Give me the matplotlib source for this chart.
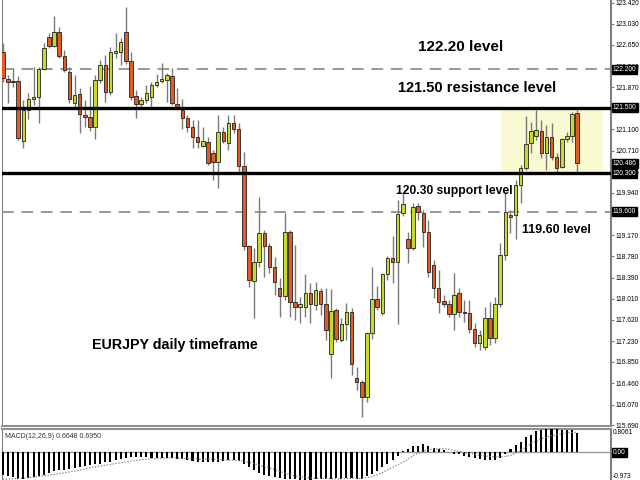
import matplotlib
matplotlib.use("Agg")
import matplotlib.pyplot as plt
import matplotlib.transforms as mtransforms
from matplotlib.patches import Rectangle
import numpy as np

# daily candles (oldest first)
opens = [122.52, 122.02, 121.99, 121.99, 120.89, 121.46, 121.66, 121.69, 122.21, 122.79,
         122.63, 122.88, 122.44, 122.15, 121.58, 121.75, 121.37, 121.33, 121.15, 122.00,
         122.28, 121.79, 122.50, 122.52, 122.88, 122.35, 121.71, 121.57, 121.64, 121.69,
         121.91, 121.99, 122.00, 122.08, 121.57, 121.46, 121.31, 121.15, 120.96, 120.80,
         120.87, 120.67, 120.51, 121.05, 120.85, 121.22, 121.11, 120.43, 118.97, 118.33,
         118.68, 119.21, 118.97, 118.59, 118.20, 118.06, 119.23, 117.95, 117.86, 117.86,
         118.11, 117.89, 118.15, 117.91, 117.00, 117.80, 117.25, 117.54, 117.76, 116.56,
         116.48, 116.21, 117.38, 118.00, 117.75, 118.46, 118.75, 118.68, 119.57, 119.10,
         118.93, 119.70, 119.57, 119.23, 118.62, 118.20, 117.96, 117.91, 117.73, 118.11,
         117.76, 117.75, 117.45, 117.20, 117.12, 117.65, 117.29, 117.91, 118.81, 119.54,
         119.54, 120.09, 120.40, 120.85, 120.99, 121.07, 120.67, 120.96, 120.60, 120.41,
         120.93, 120.98, 121.40]
highs = [122.68, 122.10, 122.22, 122.08, 121.64, 121.77, 122.24, 122.24, 122.68, 122.86,
         123.17, 122.97, 122.55, 122.24, 122.10, 121.86, 121.64, 121.89, 122.10, 122.37,
         122.46, 122.61, 122.86, 122.77, 123.34, 122.52, 121.82, 121.69, 121.91, 121.97,
         122.12, 122.32, 122.13, 122.22, 121.86, 121.66, 121.37, 121.27, 121.27, 121.15,
         120.96, 120.73, 121.37, 121.15, 121.37, 121.37, 121.22, 120.69, 118.99, 118.93,
         119.87, 119.26, 119.03, 118.77, 118.39, 119.57, 119.26, 118.99, 118.04, 118.46,
         118.29, 118.31, 118.20, 118.20, 118.18, 117.84, 117.65, 117.93, 117.84, 116.76,
         116.52, 117.40, 118.59, 118.24, 118.48, 118.79, 119.15, 119.81, 119.94, 119.23,
         119.76, 119.76, 119.63, 119.45, 118.71, 118.53, 118.07, 117.98, 118.48, 118.20,
         117.98, 117.98, 117.56, 117.43, 117.85, 117.95, 118.04, 119.03, 119.96, 119.63,
         120.18, 120.45, 121.35, 121.24, 121.46, 121.27, 121.18, 121.22, 120.67, 120.94,
         121.05, 121.42, 121.46]
lows = [121.97, 121.58, 121.88, 120.91, 120.76, 121.29, 121.55, 121.22, 122.19, 122.59,
        122.61, 122.41, 122.15, 121.58, 121.51, 121.04, 121.15, 121.07, 120.93, 121.95,
        121.60, 121.73, 122.41, 122.28, 122.30, 121.64, 121.31, 121.51, 121.58, 121.51,
        121.88, 121.95, 121.60, 121.55, 121.46, 121.11, 121.05, 120.76, 120.76, 120.78,
        120.45, 120.18, 120.03, 120.85, 120.73, 121.04, 120.32, 118.90, 118.22, 117.65,
        118.59, 118.40, 118.48, 118.07, 117.67, 117.98, 117.67, 117.62, 117.56, 117.67,
        117.56, 117.80, 117.71, 117.25, 116.56, 117.22, 117.22, 117.25, 116.61, 116.34,
        115.84, 116.12, 117.27, 117.80, 117.71, 118.35, 118.29, 117.54, 119.52, 118.66,
        118.90, 119.45, 118.95, 118.40, 118.02, 117.75, 117.86, 117.67, 117.43, 117.67,
        117.58, 117.38, 117.13, 117.07, 117.07, 117.16, 117.20, 117.86, 118.71, 119.21,
        119.10, 119.76, 120.36, 120.67, 120.91, 120.58, 120.36, 120.54, 120.32, 120.40,
        120.87, 120.87, 120.32]
closes = [122.04, 121.97, 121.97, 120.94, 121.46, 121.66, 121.69, 122.21, 122.59, 122.63,
          122.88, 122.44, 122.19, 121.66, 121.73, 121.38, 121.33, 121.15, 122.00, 122.28,
          121.79, 122.52, 122.53, 122.70, 122.35, 121.69, 121.57, 121.64, 121.77, 121.91,
          121.97, 122.02, 122.10, 121.58, 121.49, 121.31, 121.15, 120.96, 120.87, 120.89,
          120.49, 120.51, 121.05, 120.89, 121.22, 121.11, 120.43, 118.97, 118.35, 118.68,
          119.21, 118.97, 118.59, 118.31, 118.06, 119.23, 117.95, 117.86, 117.91, 118.11,
          117.91, 118.17, 117.91, 117.43, 117.78, 117.27, 117.54, 117.76, 116.81, 116.48,
          116.21, 117.38, 118.00, 117.86, 118.46, 118.75, 118.68, 119.55, 119.74, 118.93,
          119.68, 119.59, 119.23, 118.50, 118.20, 117.95, 117.91, 117.73, 118.07, 117.76,
          117.75, 117.45, 117.20, 117.34, 117.65, 117.29, 117.91, 118.81, 119.59, 119.50,
          120.09, 120.40, 120.83, 121.07, 121.09, 120.67, 120.96, 120.60, 120.40, 120.93,
          120.98, 121.38, 120.486]

# MACD(12,26,9) main bars and dotted signal line
macd = [-0.79, -0.85, -0.88, -0.93, -0.93, -0.91, -0.88, -0.85, -0.79, -0.73,
        -0.67, -0.64, -0.61, -0.58, -0.55, -0.52, -0.48, -0.45, -0.42, -0.40,
        -0.36, -0.33, -0.28, -0.24, -0.21, -0.18, -0.18, -0.18, -0.18, -0.19,
        -0.21, -0.21, -0.22, -0.22, -0.23, -0.24, -0.27, -0.30, -0.33, -0.34,
        -0.33, -0.33, -0.33, -0.30, -0.28, -0.28, -0.30, -0.40, -0.52, -0.64,
        -0.73, -0.79, -0.85, -0.88, -0.92, -0.95, -0.93, -0.95, -0.97, -0.973,
        -0.96, -0.95, -0.94, -0.93, -0.94, -0.92, -0.93, -0.92, -0.90, -0.93,
        -0.93, -0.85, -0.75, -0.65, -0.52, -0.40, -0.28, -0.15, 0.05, 0.12,
        0.21, 0.23, 0.28, 0.23, 0.16, 0.11, 0.06, 0.01, -0.06, -0.08,
        -0.12, -0.18, -0.22, -0.25, -0.28, -0.28, -0.27, -0.21, -0.06, 0.12,
        0.24, 0.36, 0.52, 0.61, 0.73, 0.76, 0.8061, 0.79, 0.79, 0.78,
        0.77, 0.78, 0.6648]
signal = [-0.95, -0.94, -0.93, -0.92, -0.91, -0.89, -0.87, -0.85, -0.82, -0.80,
          -0.78, -0.75, -0.72, -0.69, -0.66, -0.63, -0.59, -0.55, -0.52, -0.49,
          -0.46, -0.43, -0.40, -0.37, -0.34, -0.31, -0.29, -0.27, -0.25, -0.23,
          -0.22, -0.21, -0.21, -0.20, -0.20, -0.21, -0.22, -0.23, -0.24, -0.25,
          -0.24, -0.25, -0.26, -0.27, -0.28, -0.28, -0.29, -0.31, -0.35, -0.40,
          -0.45, -0.50, -0.55, -0.61, -0.67, -0.73, -0.79, -0.83, -0.86, -0.88,
          -0.90, -0.91, -0.92, -0.92, -0.93, -0.93, -0.93, -0.92, -0.92, -0.92,
          -0.91, -0.89, -0.86, -0.79, -0.71, -0.62, -0.53, -0.44, -0.35, -0.26,
          -0.12, -0.04, 0.03, 0.08, 0.11, 0.12, 0.12, 0.10, 0.06, 0.02,
          -0.02, -0.05, -0.08, -0.11, -0.13, -0.15, -0.16, -0.16, -0.15, -0.12,
          -0.04, 0.06, 0.17, 0.29, 0.38, 0.46, 0.52, 0.57, 0.61, 0.64,
          0.67, 0.68, 0.695]

price_ticks = [123.420, 123.030, 122.650, 122.260, 121.870, 121.480, 121.100, 120.710,
               120.320, 119.940, 119.550, 119.170, 118.780, 118.390, 118.010, 117.620,
               117.230, 116.850, 116.460, 116.070, 115.690]
boxed_levels = [122.200, 121.500, 120.486, 120.300, 119.600]
resistance, support = 121.50, 120.30
upper_level, lower_level = 122.20, 119.60

green = "#c6da2c"
red = "#e65a22"
label_font = "Liberation Sans"

fig = plt.figure(figsize=(6.4, 4.8), dpi=100)
ax = fig.add_axes([2 / 640, 54 / 480, 609 / 640, 426 / 480])
axm = fig.add_axes([2 / 640, 0, 609 / 640, 51 / 480])

n = len(opens)
idx = np.arange(n)
o = np.array(opens)
c = np.array(closes)

# --- price panel ---
ax.add_patch(Rectangle((97.2, support), 19.9, resistance - support,
                       facecolor="#fafad2", edgecolor="none", zorder=0))
ax.axhline(upper_level, color="#999999", lw=1.4, ls=(0, (6, 4)), zorder=1)
ax.axhline(lower_level, color="#999999", lw=1.4, ls=(0, (6, 4)), zorder=1)

ax.vlines(idx, lows, highs, color="#7a7a7a", lw=1, zorder=2)
body_bottom = np.minimum(o, c)
body_height = np.maximum(np.abs(c - o), 0.012)
colours = [green if cl >= op else red for op, cl in zip(o, c)]
ax.bar(idx, body_height, bottom=body_bottom, width=0.68, color=colours,
       edgecolor="#222222", linewidth=0.6, zorder=3)

ax.axhline(resistance, color="black", lw=2.4, zorder=4)
ax.axhline(support, color="black", lw=2.4, zorder=4)

txt = dict(fontweight="bold", color="black", family=label_font, va="center", ha="left", zorder=5)
ax.text(80.9, 122.61, "122.20 level", fontsize=11, **txt)
ax.text(77.1, 121.86, "121.50 resistance level", fontsize=10.5, **txt)
ax.text(76.7, 119.97, "120.30 support level", fontsize=8.7, **txt)
ax.text(101.2, 119.26, "119.60 level", fontsize=9, **txt)
ax.text(17.4, 117.16, "EURJPY daily timeframe", fontsize=10.3, **txt)

ax.set_xlim(-0.15, 118.6)
ax.set_ylim(115.68, 123.467)
ax.set_xticks([])
ax.yaxis.tick_right()
ax.set_yticks(price_ticks)
ax.set_yticklabels([f"{t:.3f}" for t in price_ticks], family=label_font)
ax.tick_params(axis="y", length=2, width=0.8, color="#808080", labelsize=4.8, pad=1)
ax.spines["top"].set_visible(False)
ax.spines["left"].set_color("#808080")
ax.spines["right"].set_color("#808080")
ax.spines["right"].set_linewidth(1.5)
ax.spines["bottom"].set_color("#909090")
ax.spines["bottom"].set_linewidth(1.5)

trans = mtransforms.blended_transform_factory(ax.transAxes, ax.transData)
for lv in boxed_levels:
    ax.text(1.003, lv, f"{lv:.3f}", transform=trans, fontsize=4.8, color="white",
            family=label_font, va="center", ha="left", clip_on=False, zorder=6,
            bbox=dict(boxstyle="square,pad=0.15", facecolor="black", edgecolor="black"))

# --- MACD panel ---
axm.bar(idx, macd, width=0.4, color="black", zorder=3)
axm.plot(idx, signal, color="#777777", lw=0.8, ls=(0, (1.2, 1.5)), zorder=4)
axm.axhline(0, color="#999999", lw=1, zorder=2)
axm.set_xlim(-0.15, 118.6)
axm.set_ylim(-0.973, 0.8061)
axm.set_xticks([])
axm.set_yticks([])
axm.spines["bottom"].set_visible(False)
axm.spines["left"].set_color("#808080")
axm.spines["right"].set_color("#808080")
axm.spines["right"].set_linewidth(1.5)
axm.spines["top"].set_color("#909090")
axm.spines["top"].set_linewidth(1.5)
axm.text(0.005, 0.86, "MACD(12,26,9) 0.6648 0.6950", transform=axm.transAxes,
         fontsize=5, color="#333333", family=label_font, va="center", ha="left")
mtrans = mtransforms.blended_transform_factory(axm.transAxes, axm.transData)
axm.text(1.003, 0.8061, "0.8061", transform=mtrans, fontsize=4.8, family=label_font,
         va="top", ha="left", clip_on=False)
axm.text(1.003, 0.0, "0.00", transform=mtrans, fontsize=4.8, family=label_font, color="white",
         va="center", ha="left", clip_on=False,
         bbox=dict(boxstyle="square,pad=0.15", facecolor="black", edgecolor="black"))
axm.text(1.003, -0.973, "-0.973", transform=mtrans, fontsize=4.8, family=label_font,
         va="bottom", ha="left", clip_on=False)

fig.savefig("out.png", dpi=100)
